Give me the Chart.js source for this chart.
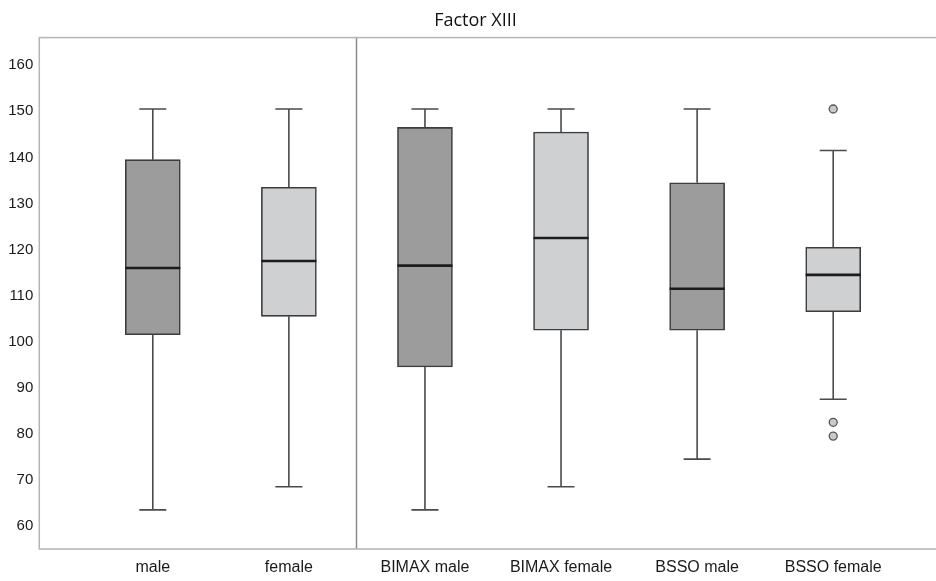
<!DOCTYPE html>
<html>
<head>
<meta charset="utf-8">
<script src="https://cdn.jsdelivr.net/npm/chart.js@4.4.1/dist/chart.umd.min.js"></script>
<style>
  html, body { margin: 0; padding: 0; background: #fff; overflow: hidden; }
  #wrap { width: 952px; height: 581px; position: relative; }
</style>
</head>
<body>
<div id="wrap"><canvas id="chart"></canvas></div>
<script>
// Factor XIII by group: five-number summaries plus outliers
const categories = ['male', 'female', 'BIMAX male', 'BIMAX female', 'BSSO male', 'BSSO female'];
const whiskerLow  = [63.5, 68.5, 63.5, 68.5, 74.5, 87.5];
const quartile1   = [101.5, 105.5, 94.5, 102.5, 102.5, 106.5];
const medians     = [116, 117.5, 116.5, 122.5, 111.5, 114.5];
const quartile3   = [139.5, 133.5, 146.5, 145.5, 134.5, 120.5];
const whiskerHigh = [150.5, 150.5, 150.5, 150.5, 150.5, 141.5];
const outlierGroup  = [5, 5, 5];
const outlierValues = [150.5, 82.5, 79.5];
const yTickValues = [60, 70, 80, 90, 100, 110, 120, 130, 140, 150, 160];

// alternating box shades: male groups dark, female groups light
const boxFills = ['#9c9c9d', '#cfd0d2', '#9c9c9d', '#cfd0d2', '#9c9c9d', '#cfd0d2'];

const boxData = categories.map((c, i) => ({ x: i, y: [quartile1[i], quartile3[i]] }));
const outlierData = outlierValues.map((v, k) => ({ x: outlierGroup[k], y: v }));

// whiskers, caps, medians, plot frame and the group divider
const boxPlotExtras = {
  id: 'boxPlotExtras',
  beforeDatasetsDraw(chart) {
    const { ctx, chartArea, scales: { x, y } } = chart;
    ctx.save();
    ctx.strokeStyle = '#4a4a4a';
    ctx.lineWidth = 1.6;
    const capHalf = 13.5;
    categories.forEach((c, i) => {
      const cx = x.getPixelForValue(i);
      const pairs = [[quartile3[i], whiskerHigh[i]], [quartile1[i], whiskerLow[i]]];
      pairs.forEach(([from, to]) => {
        const y0 = y.getPixelForValue(from);
        const y1 = y.getPixelForValue(to);
        ctx.beginPath();
        ctx.moveTo(cx, y0);
        ctx.lineTo(cx, y1);
        ctx.moveTo(cx - capHalf, y1);
        ctx.lineTo(cx + capHalf, y1);
        ctx.stroke();
      });
    });
    // divider between the overall groups and the surgical groups
    const dx = Math.round(x.getPixelForValue(1.5)) - 0.5;
    ctx.strokeStyle = '#8a8a8a';
    ctx.lineWidth = 1.5;
    ctx.beginPath();
    ctx.moveTo(dx, chartArea.top);
    ctx.lineTo(dx, chartArea.bottom);
    ctx.stroke();
    ctx.restore();
  },
  afterDatasetsDraw(chart) {
    const { ctx, chartArea, scales: { x, y } } = chart;
    const meta = chart.getDatasetMeta(0);
    ctx.save();
    ctx.strokeStyle = '#1c1c1c';
    ctx.lineWidth = 2.6;
    categories.forEach((c, i) => {
      const bar = meta.data[i];
      const half = bar.width / 2;
      const cx = x.getPixelForValue(i);
      const my = y.getPixelForValue(medians[i]);
      ctx.beginPath();
      ctx.moveTo(cx - half, my);
      ctx.lineTo(cx + half, my);
      ctx.stroke();
    });
    ctx.strokeStyle = '#b4b4b4';
    ctx.lineWidth = 1.5;
    ctx.strokeRect(chartArea.left, chartArea.top, chartArea.right - chartArea.left, chartArea.bottom - chartArea.top);
    ctx.restore();
  }
};

new Chart(document.getElementById('chart'), {
  data: {
    datasets: [
      {
        type: 'bar',
        data: boxData,
        backgroundColor: boxFills,
        borderColor: '#3c3c3c',
        borderWidth: 1.6,
        borderSkipped: false,
        barThickness: 55,
        order: 2
      },
      {
        type: 'scatter',
        data: outlierData,
        pointRadius: 4,
        pointBackgroundColor: '#c9c9c9',
        pointBorderColor: '#555555',
        pointBorderWidth: 1.3,
        order: 1
      }
    ]
  },
  options: {
    responsive: true,
    maintainAspectRatio: false,
    animation: false,
    layout: { padding: { left: 0, right: 1, top: 0, bottom: 0 } },
    plugins: {
      legend: { display: false },
      tooltip: { enabled: false },
      title: {
        display: true,
        text: 'Factor XIII',
        color: '#111111',
        font: { family: 'Open Sans', size: 18, weight: '500' },
        padding: { top: 10, bottom: 6 },
        align: 'center'
      }
    },
    scales: {
      x: {
        type: 'linear',
        offset: false,
        min: -0.834,
        max: 5.834,
        afterBuildTicks(scale) { scale.ticks = categories.map((c, i) => ({ value: i })); },
        afterFit(scale) { scale.height = 32; },
        grid: { display: false, drawTicks: false, offset: false },
        border: { display: false },
        ticks: {
          autoSkip: false,
          maxRotation: 0,
          padding: 9,
          color: '#1a1a1a',
          font: { family: 'Liberation Sans', size: 16 },
          callback: (v) => categories[v]
        }
      },
      y: {
        min: 55,
        max: 166,
        afterBuildTicks(scale) { scale.ticks = yTickValues.map(v => ({ value: v })); },
        afterFit(scale) { scale.width = 39.3; },
        grid: { display: false, drawTicks: false },
        border: { display: false },
        ticks: {
          padding: 6,
          color: '#1a1a1a',
          font: { family: 'Liberation Sans', size: 15 }
        }
      }
    }
  },
  plugins: [boxPlotExtras]
});
</script>
</body>
</html>
